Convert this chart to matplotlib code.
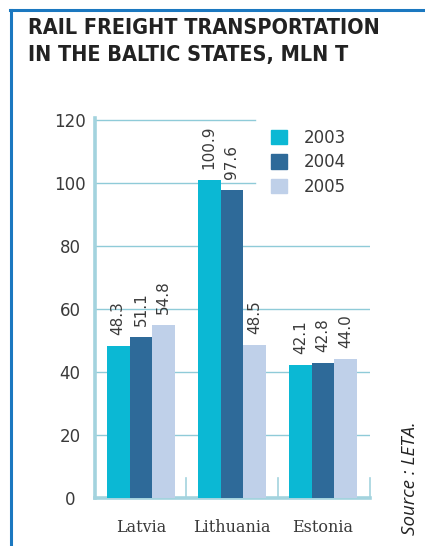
import matplotlib.pyplot as plt
from matplotlib.lines import Line2D
from matplotlib.patches import Patch
import numpy as np

countries = ['Latvia', 'Lithuania', 'Estonia']
years = ['2003', '2004', '2005']
v2003 = [48.3, 100.9, 42.1]
v2004 = [51.1, 97.6, 42.8]
v2005 = [54.8, 48.5, 44.0]
labels2003 = ['48.3', '100.9', '42.1']
labels2004 = ['51.1', '97.6', '42.8']
labels2005 = ['54.8', '48.5', '44.0']

colors = ['#0bb8d4', '#2e6a99', '#bfd0e9']
grid_c = '#8fcbd8'
spine_c = '#a3d3de'

fig = plt.figure(figsize=(4.25, 5.46), dpi=100)

# magazine frame (left and top blue lines)
fig.add_artist(Line2D([11 / 425, 11 / 425], [0, 1 - 10 / 546], color='#1b78c0', lw=2.2))
fig.add_artist(Line2D([10 / 425, 1], [1 - 10 / 546, 1 - 10 / 546], color='#1b78c0', lw=2.2))

fig.text(28 / 425, 1 - 41.5 / 546, 'RAIL FREIGHT TRANSPORTATION\nIN THE BALTIC STATES, MLN T',
         fontsize=15.5, fontweight='bold', family='DejaVu Sans', fontstretch='condensed',
         color='#222222', va='center', ha='left', linespacing=1.4)

ax = fig.add_axes([95 / 425, 48 / 546, 275 / 425, 380 / 546])
x = np.arange(len(countries))
w = 0.25
series = [v2003, v2004, v2005]
labs = [labels2003, labels2004, labels2005]
for i, (vals, lab) in enumerate(zip(series, labs)):
    pos = x + (i - 1) * w
    ax.bar(pos, vals, w, color=colors[i], zorder=3)
    for p, v, t in zip(pos, vals, lab):
        ax.text(p, v + 3.5, t, rotation=90, ha='center', va='bottom',
                fontsize=11, color='#3a3a3a')

ax.set_xlim(-0.505, 2.516)
ax.set_ylim(0, 120.6)

# gridlines, the top two stop before the legend
for yv in [20, 40, 60, 80]:
    ax.axhline(yv, color=grid_c, lw=1, zorder=1)
for yv in [100, 120]:
    ax.plot([-0.505, 1.25], [yv, yv], color=grid_c, lw=1, zorder=1)

for s in ['top', 'right']:
    ax.spines[s].set_visible(False)
for s in ['left', 'bottom']:
    ax.spines[s].set_color(spine_c)
    ax.spines[s].set_linewidth(2.6)

# small separators between groups
for xs in [0.5, 1.5, 2.516]:
    ax.plot([xs, xs], [0, 6.3], color=spine_c, lw=1.2, zorder=2, clip_on=False)

ax.set_yticks([0, 20, 40, 60, 80, 100, 120])
ax.tick_params(axis='y', length=0, pad=18, labelsize=12, labelcolor='#3a3a3a')
for t in ax.get_yticklabels():
    t.set_horizontalalignment('center')
ax.set_xticks(x)
ax.set_xticklabels(countries, family='DejaVu Serif', fontsize=11.5, color='#3a3a3a')
ax.tick_params(axis='x', length=0, pad=15)

handles = [Patch(color=c) for c in colors]
leg = ax.legend(handles, years, loc='upper left', bbox_to_anchor=(0.64, 0.972), frameon=False,
                fontsize=12, handlelength=0.95, handleheight=0.95, handletextpad=1.0,
                labelspacing=0.4, borderpad=0, borderaxespad=0, labelcolor='#3a3a3a')

fig.text(410 / 425, 1 - 478 / 546, 'Source : LETA.', rotation=90, ha='center', va='center',
         fontsize=13.5, style='italic', family='Open Sans', color='#222222')

fig.savefig('out.png', dpi=100)
